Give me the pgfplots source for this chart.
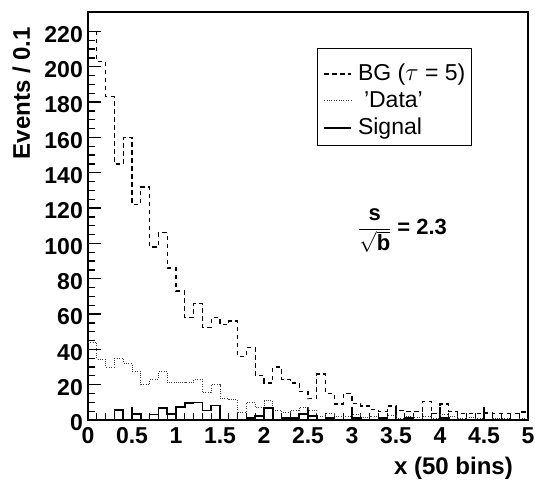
\documentclass[border=0pt]{standalone}
\usepackage{fontspec}
\setmainfont{Liberation Sans}
\usepackage{pgfplots}
\pgfplotsset{compat=1.18}
\usepackage{pgfplotstable}

\pgfplotstableread{
x    bg    data  sig
0.0  220   44    0
0.1  203   34.5  0
0.2  183   30    0
0.3  145   35    5.8
0.4  160   32    0
0.5  122   27.5  3.5
0.6  132   20    0
0.7  98    23    3.1
0.8  106   27.5  6.7
0.9  86    21    3.5
1.0  73    21.5  7.2
1.1  58    21    9.5
1.2  66    23    9.9
1.3  52.5  15.5  5.4
1.4  58    20    8.2
1.5  54    12    0
1.6  56    11.5  0
1.7  36    4.5   0
1.8  41    10    1.2
1.9  25    7     2.3
2.0  21    11    6.7
2.1  30    5.4   0
2.2  23    4.5   1.2
2.3  21    5.4   1.2
2.4  16    7     3.5
2.5  12    5.4   2.3
2.6  26    1.8   0
2.7  15    3.5   1.2
2.8  9     2     0
2.9  15    2     0
3.0  9.5   3     1.2
3.1  8     1.5   0
3.2  6     2     0
3.3  5     1     1.2
3.4  8     2.5   0
3.5  5.5   1     0
3.6  5     2     1.2
3.7  5     1.5   0
3.8  10.5  2     0
3.9  3.5   1     0
4.0  9     3     1.2
4.1  5     2     0
4.2  3.5   1     0
4.3  3.5   1.5   0
4.4  3.5   1     0
4.5  4     0.5   0
4.6  3.5   1     0
4.7  3.5   1     0
4.8  3.5   0.5   0
4.9  4.5   1     0
5.0  4.5   1     0
}\hist

\begin{document}
\begin{tikzpicture}
\begin{axis}[
  scale only axis, width=440pt, height=408pt,
  at={(0pt,0pt)}, anchor=south west,
  xmin=0, xmax=5, ymin=0, ymax=231,
  axis line style={line width=1.6pt},
  tick align=inside,
  xtick pos=left, ytick pos=left,
  xtick={0,0.5,...,5}, ytick={0,20,...,220},
  xticklabels={0,0.5,1,1.5,2,2.5,3,3.5,4,4.5,5},
  minor x tick num=4, minor y tick num=3,
  major tick length=13pt, minor tick length=7pt,
  every tick/.style={line width=1.3pt, black},
  /pgf/number format/assume math mode=true,
  ticklabel style={font=\bfseries\fontsize{23}{23}\selectfont, inner sep=0pt},
  yticklabel style={xshift=-5pt, yshift=-3pt},
  xticklabel style={yshift=-7pt},
  legend style={at={(axis description cs:0.5205,0.9115)}, anchor=north west,
    draw=black, line width=0.8pt, font=\fontsize{23}{23}\selectfont,
    inner xsep=6pt, inner ysep=9.7pt, row sep=3.5pt, column sep=6pt,
    nodes={inner sep=0pt}},
  legend cell align=left,
  legend image code/.code={\draw[#1] (0pt,-4pt) -- (27pt,-4pt);},
]
\addplot[const plot, line width=1.3pt, dash pattern=on 4.5pt off 3.5pt] table[x=x, y=bg] {\hist};
\addlegendentry{\rule{0pt}{22pt}\smash{BG ($\tau$ = 5)}\hspace{13pt}}
\addplot[const plot, line width=1pt, dash pattern=on 1pt off 1.4pt, black!75] table[x=x, y=data] {\hist};
\addlegendentry{\rule{0pt}{22pt}\smash{\hspace{6pt}'Data'}}
\addplot[const plot, line width=1.6pt] table[x=x, y=sig] {\hist};
\addlegendentry{\rule{0pt}{22pt}\smash{Signal}}
\node[font=\bfseries\fontsize{22}{26}\selectfont, inner sep=0pt] at (axis cs:3.575,107.3)
  {$\displaystyle\frac{\mbox{s}}{\sqrt{\mbox{b}}}$\hspace{6pt}= 2.3};
\end{axis}
\node[rotate=90, anchor=base east, inner sep=0pt, font=\bfseries\fontsize{24}{24}\selectfont] at (-58pt,393pt) {Events / 0.1};
\node[anchor=base east, inner sep=0pt, font=\bfseries\fontsize{24}{24}\selectfont] at (425pt,-54pt) {x (50 bins)};
\pgfresetboundingbox
\useasboundingbox (-88pt,-60pt) rectangle (447pt,420pt);
\end{tikzpicture}
\end{document}
